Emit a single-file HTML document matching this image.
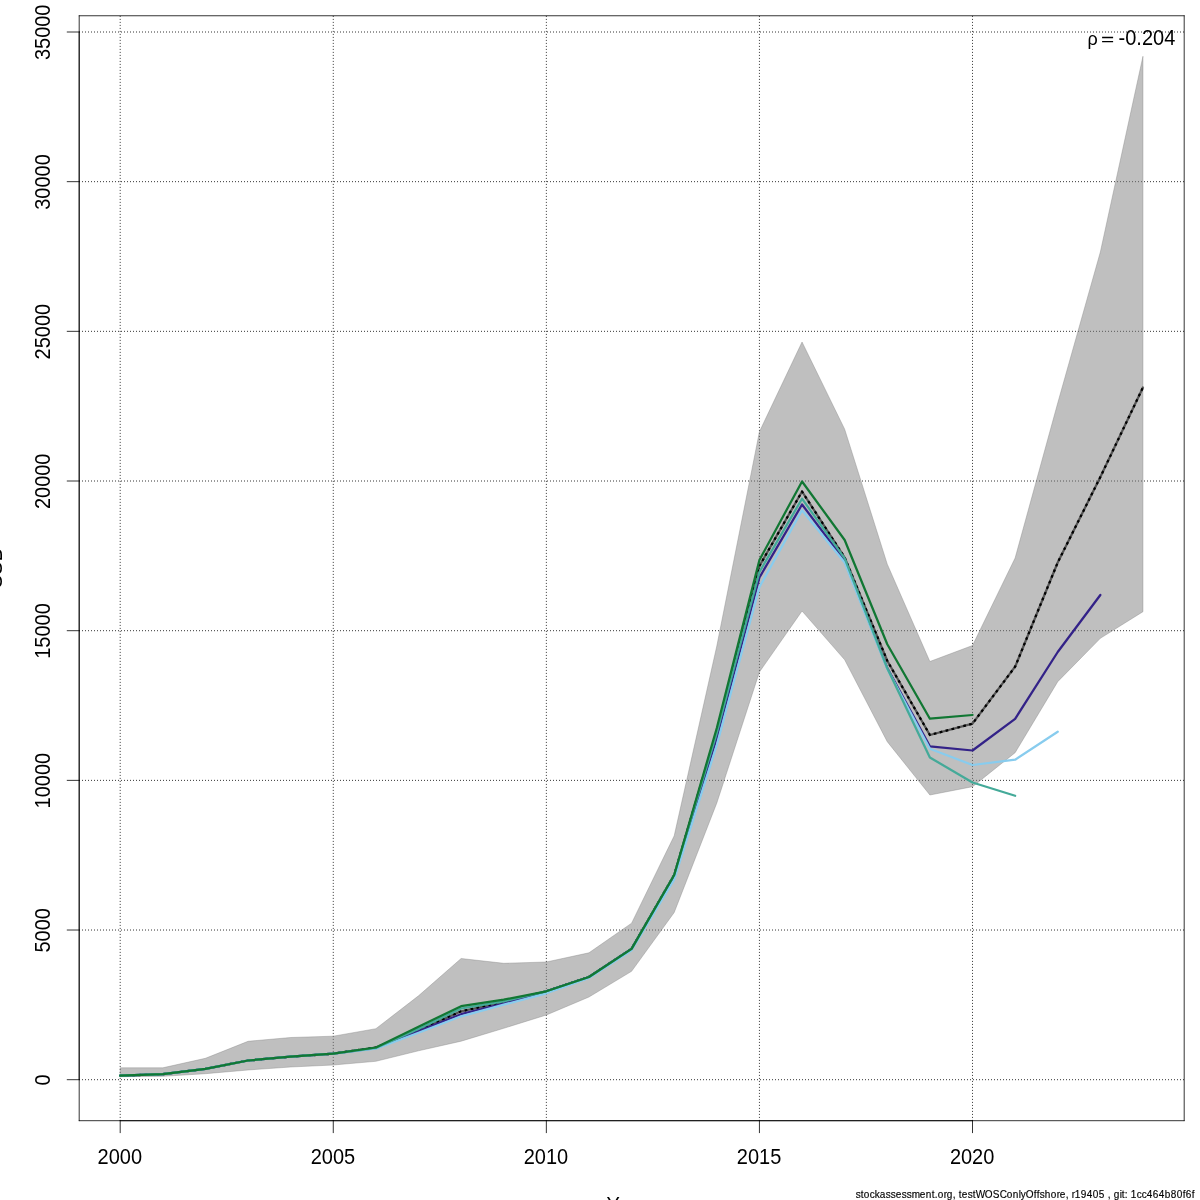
<!DOCTYPE html>
<html><head><meta charset="utf-8"><title>SSB retro</title>
<style>
html,body{margin:0;padding:0;background:#fff;}
body{width:1200px;height:1200px;overflow:hidden;font-family:"Liberation Sans",sans-serif;}
svg{display:block;will-change:transform;-webkit-font-smoothing:antialiased;}
text{font-family:"Liberation Sans",sans-serif;fill:#000;}
</style></head><body>
<svg width="1200" height="1200" viewBox="0 0 1200 1200">
<rect x="0" y="0" width="1200" height="1200" fill="#ffffff"/>

<g stroke="#000" stroke-width="0.8" stroke-dasharray="1 2" fill="none" stroke-linecap="butt">
<line x1="79.00" y1="1079.70" x2="1184.20" y2="1079.70"/>
<line x1="79.00" y1="930.03" x2="1184.20" y2="930.03"/>
<line x1="79.00" y1="780.36" x2="1184.20" y2="780.36"/>
<line x1="79.00" y1="630.69" x2="1184.20" y2="630.69"/>
<line x1="79.00" y1="481.01" x2="1184.20" y2="481.01"/>
<line x1="79.00" y1="331.34" x2="1184.20" y2="331.34"/>
<line x1="79.00" y1="181.67" x2="1184.20" y2="181.67"/>
<line x1="79.00" y1="32.00" x2="1184.20" y2="32.00"/>
<line x1="120.20" y1="1120.90" x2="120.20" y2="15.75"/>
<line x1="333.28" y1="1120.90" x2="333.28" y2="15.75"/>
<line x1="546.35" y1="1120.90" x2="546.35" y2="15.75"/>
<line x1="759.43" y1="1120.90" x2="759.43" y2="15.75"/>
<line x1="972.50" y1="1120.90" x2="972.50" y2="15.75"/>
</g>
<polygon points="120.20,1076.70 162.81,1076.30 205.43,1073.70 248.05,1070.00 290.66,1067.00 333.28,1065.00 375.89,1061.30 418.50,1050.80 461.12,1041.20 503.74,1028.30 546.35,1015.00 588.97,997.00 631.58,971.30 674.20,912.50 716.81,803.00 759.43,672.00 802.04,611.00 844.66,659.80 887.27,741.70 929.89,795.00 972.50,786.70 1015.12,752.70 1057.73,681.70 1100.35,638.30 1142.96,611.70 1142.96,56.30 1100.35,252.00 1057.73,403.00 1015.12,558.00 972.50,645.50 929.89,661.50 887.27,564.20 844.66,429.20 802.04,342.00 759.43,431.70 716.81,646.00 674.20,835.80 631.58,923.20 588.97,952.80 546.35,962.00 503.74,963.30 461.12,958.50 418.50,995.80 375.89,1028.70 333.28,1036.20 290.66,1037.50 248.05,1041.30 205.43,1058.30 162.81,1067.80 120.20,1067.80" fill="#808080" fill-opacity="0.5" stroke="#808080" stroke-opacity="0.5" stroke-width="0.75" stroke-linejoin="round"/>
<polyline points="120.20,1075.70 162.81,1074.20 205.43,1068.80 248.05,1060.50 290.66,1056.70 333.28,1053.70 375.89,1047.50 418.50,1030.20 461.12,1011.30 503.74,1002.00 546.35,991.30 588.97,977.00 631.58,948.90 674.20,875.00 716.81,731.00 759.43,566.00 802.04,491.50 844.66,557.50 887.27,660.80 929.89,735.00 972.50,723.70 1015.12,666.70 1057.73,562.50 1100.35,477.00 1142.96,387.50" fill="none" stroke="#000" stroke-opacity="0.55" stroke-width="2.25" stroke-linejoin="round" stroke-linecap="round"/>
<polyline points="120.20,1075.70 162.81,1074.20 205.43,1068.80 248.05,1060.50 290.66,1056.70 333.28,1053.70 375.89,1047.50 418.50,1030.20 461.12,1011.30 503.74,1002.00 546.35,991.30 588.97,977.00 631.58,948.90 674.20,875.00 716.81,731.00 759.43,566.00 802.04,491.50 844.66,557.50 887.27,660.80 929.89,735.00 972.50,723.70 1015.12,666.70 1057.73,562.50 1100.35,477.00 1142.96,387.50" fill="none" stroke="#000" stroke-width="2.25" stroke-linejoin="round" stroke-linecap="butt" stroke-dasharray="2.7 3.4"/>
<polyline points="120.20,1075.70 162.81,1074.20 205.43,1068.80 248.05,1060.50 290.66,1056.70 333.28,1053.70 375.89,1048.20 418.50,1031.20 461.12,1014.20 503.74,1003.50 546.35,991.30 588.97,977.00 631.58,948.90 674.20,877.00 716.81,738.00 759.43,577.50 802.04,504.50 844.66,560.80 887.27,668.00 929.89,746.30 972.50,750.50 1015.12,718.80 1057.73,652.00 1100.35,595.00" fill="none" stroke="#332288" stroke-width="2.25" stroke-linejoin="round" stroke-linecap="round" />
<polyline points="120.20,1075.70 162.81,1074.20 205.43,1068.80 248.05,1060.50 290.66,1056.70 333.28,1053.70 375.89,1048.70 418.50,1032.80 461.12,1016.30 503.74,1004.70 546.35,993.30 588.97,978.00 631.58,950.20 674.20,879.50 716.81,745.00 759.43,587.00 802.04,510.30 844.66,562.50 887.27,669.00 929.89,748.70 972.50,765.00 1015.12,759.70 1057.73,731.70" fill="none" stroke="#88CCEE" stroke-width="2.25" stroke-linejoin="round" stroke-linecap="round" />
<polyline points="120.20,1075.70 162.81,1074.20 205.43,1068.80 248.05,1060.50 290.66,1056.70 333.28,1053.70 375.89,1048.00 418.50,1028.90 461.12,1008.50 503.74,1001.30 546.35,991.30 588.97,977.00 631.58,948.90 674.20,875.00 716.81,733.00 759.43,572.00 802.04,498.70 844.66,558.30 887.27,668.30 929.89,757.50 972.50,782.50 1015.12,795.80" fill="none" stroke="#44AA99" stroke-width="2.25" stroke-linejoin="round" stroke-linecap="round" />
<polyline points="120.20,1075.70 162.81,1074.20 205.43,1068.80 248.05,1060.50 290.66,1056.70 333.28,1053.70 375.89,1047.50 418.50,1026.70 461.12,1006.20 503.74,999.70 546.35,991.30 588.97,977.00 631.58,948.90 674.20,875.00 716.81,728.00 759.43,560.00 802.04,481.50 844.66,540.00 887.27,644.20 929.89,718.70 972.50,715.00" fill="none" stroke="#117733" stroke-width="2.25" stroke-linejoin="round" stroke-linecap="round" />
<g stroke="#000" stroke-width="0.8" fill="none" stroke-linecap="round" stroke-linejoin="round">
<line x1="79.20" y1="15.75" x2="1184.20" y2="15.75"/>
<line x1="1184.20" y1="15.75" x2="1184.20" y2="1120.70"/>
<line x1="1184.20" y1="1120.70" x2="79.20" y2="1120.70"/>
<line x1="79.20" y1="1120.70" x2="79.20" y2="15.75"/>
<line x1="79.20" y1="1079.70" x2="79.20" y2="32.00"/>
<line x1="120.20" y1="1120.70" x2="972.50" y2="1120.70"/>
<line x1="67.20" y1="1079.70" x2="79.20" y2="1079.70"/>
<line x1="67.20" y1="930.03" x2="79.20" y2="930.03"/>
<line x1="67.20" y1="780.36" x2="79.20" y2="780.36"/>
<line x1="67.20" y1="630.69" x2="79.20" y2="630.69"/>
<line x1="67.20" y1="481.01" x2="79.20" y2="481.01"/>
<line x1="67.20" y1="331.34" x2="79.20" y2="331.34"/>
<line x1="67.20" y1="181.67" x2="79.20" y2="181.67"/>
<line x1="67.20" y1="32.00" x2="79.20" y2="32.00"/>
<line x1="120.20" y1="1120.70" x2="120.20" y2="1132.70"/>
<line x1="333.28" y1="1120.70" x2="333.28" y2="1132.70"/>
<line x1="546.35" y1="1120.70" x2="546.35" y2="1132.70"/>
<line x1="759.43" y1="1120.70" x2="759.43" y2="1132.70"/>
<line x1="972.50" y1="1120.70" x2="972.50" y2="1132.70"/>
</g>
<text transform="translate(119.80,1163.8) scale(1,1.08)" font-size="20" text-anchor="middle">2000</text>
<text transform="translate(332.88,1163.8) scale(1,1.08)" font-size="20" text-anchor="middle">2005</text>
<text transform="translate(545.95,1163.8) scale(1,1.08)" font-size="20" text-anchor="middle">2010</text>
<text transform="translate(759.03,1163.8) scale(1,1.08)" font-size="20" text-anchor="middle">2015</text>
<text transform="translate(972.10,1163.8) scale(1,1.08)" font-size="20" text-anchor="middle">2020</text>
<text transform="translate(49.8,1080.00) rotate(-90) scale(1,1.08)" font-size="20" text-anchor="middle">0</text>
<text transform="translate(49.8,930.33) rotate(-90) scale(1,1.08)" font-size="20" text-anchor="middle">5000</text>
<text transform="translate(49.8,780.66) rotate(-90) scale(1,1.08)" font-size="20" text-anchor="middle">10000</text>
<text transform="translate(49.8,630.99) rotate(-90) scale(1,1.08)" font-size="20" text-anchor="middle">15000</text>
<text transform="translate(49.8,481.31) rotate(-90) scale(1,1.08)" font-size="20" text-anchor="middle">20000</text>
<text transform="translate(49.8,331.64) rotate(-90) scale(1,1.08)" font-size="20" text-anchor="middle">25000</text>
<text transform="translate(49.8,181.97) rotate(-90) scale(1,1.08)" font-size="20" text-anchor="middle">30000</text>
<text transform="translate(49.8,32.30) rotate(-90) scale(1,1.08)" font-size="20" text-anchor="middle">35000</text>
<text transform="translate(631.70,1211.8) scale(1,1.08)" font-size="20" text-anchor="middle">Years</text>
<text transform="translate(2.2,568.23) rotate(-90) scale(1,1.08)" font-size="20" text-anchor="middle">SSB</text>
<text x="1087.5" y="44.6" font-size="18">ρ</text>
<path d="M1102.1 37.5H1113.1M1102.1 41.6H1113.1" stroke="#000" stroke-width="1.35" fill="none"/>
<text transform="translate(1118.6,44.7) scale(1,1.08)" font-size="20">-0.204</text>
<text x="855.7 860.7 863.7 869.7 874.7 879.7 885.7 890.7 895.7 901.7 906.7 911.7 919.7 925.7 931.7 934.7 937.7 943.7 946.7 952.7 955.7 958.7 961.7 967.7 972.7 975.7 984.7 992.7 999.7 1006.7 1012.7 1018.7 1020.7 1025.7 1033.7 1036.7 1039.7 1044.7 1050.7 1056.7 1059.7 1065.7 1068.7 1071.7 1074.7 1080.7 1086.7 1092.7 1098.7 1104.7 1107.7 1110.7 1113.7 1119.7 1121.7 1124.7 1127.7 1130.7 1136.7 1141.7 1146.7 1152.7 1158.7 1164.7 1170.7 1176.7 1182.7 1185.7 1191.7" y="1198.0" font-size="10" stroke="#000" stroke-width="0.15">stockassessment.org, testWOSConlyOffshore, r19405 , git: 1cc464b80f6f</text>
</svg></body></html>
